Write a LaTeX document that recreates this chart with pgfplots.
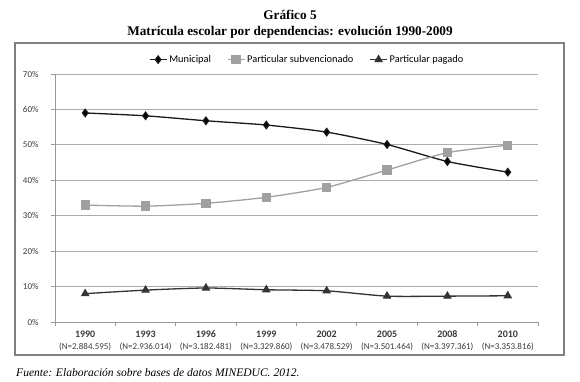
\documentclass[border=0pt]{standalone}
\usepackage{pgfplots}
\pgfplotsset{compat=1.18}
\usepackage{fontspec}
\setmainfont{Carlito}
\newfontfamily\tnr{Liberation Serif}
\definecolor{subv}{HTML}{A0A0A0}
\definecolor{txt}{HTML}{3A3A3A}
\definecolor{boxc}{HTML}{7F7F7F}
\begin{document}
\begin{tikzpicture}
\path[use as bounding box] (0bp,0bp) rectangle (580bp,382bp);
\draw[draw=boxc, line width=1.1bp] (15bp,27bp) -- (564bp,27bp) -- (564bp,339bp) -- (15bp,339bp) -- cycle;
\node[font=\tnr\bfseries\fontsize{13.3}{15}\selectfont] at (290bp,367bp) {Gráfico 5};
\node[font=\tnr\bfseries\fontsize{13.3}{15}\selectfont] at (290bp,350bp) {Matrícula escolar por dependencias: evolución 1990-2009};
\node[anchor=west, font=\tnr\itshape\fontsize{11.6}{13}\selectfont, inner sep=0pt] at (16bp,9bp) {Fuente: Elaboración sobre bases de datos MINEDUC. 2012.};
\begin{axis}[at={(55bp,60bp)}, anchor=south west, scale only axis,
  width=483bp, height=248bp,
  xmin=-0.5, xmax=7.5, ymin=0, ymax=70,
  separate axis lines, axis x line=bottom, axis y line=left,
  axis line style={-, gray!80, line width=0.8bp},
  tick align=outside,
  xtick={0,...,7}, major x tick style={draw=none},
  minor xtick={-0.5,0.5,...,7.5}, minor tick length=4bp,
  minor x tick style={gray!80, line width=0.8bp},
  ytick={0,10,...,70}, major tick length=4bp,
  y tick style={gray!80, line width=0.8bp},
  yticklabels={0\%,10\%,20\%,30\%,40\%,50\%,60\%,70\%},
  yticklabel style={font=\fontsize{9}{10}\selectfont, text=txt, xshift=-9bp},
  xticklabels={
    {\textbf{1990}\\[0bp]{\fontsize{9}{10}\selectfont (N=2.884.595)}},
    {\textbf{1993}\\[0bp]{\fontsize{9}{10}\selectfont (N=2.936.014)}},
    {\textbf{1996}\\[0bp]{\fontsize{9}{10}\selectfont (N=3.182.481)}},
    {\textbf{1999}\\[0bp]{\fontsize{9}{10}\selectfont (N=3.329.860)}},
    {\textbf{2002}\\[0bp]{\fontsize{9}{10}\selectfont (N=3.478.529)}},
    {\textbf{2005}\\[0bp]{\fontsize{9}{10}\selectfont (N=3.501.464)}},
    {\textbf{2008}\\[0bp]{\fontsize{9}{10}\selectfont (N=3.397.361)}},
    {\textbf{2010}\\[0bp]{\fontsize{9}{10}\selectfont (N=3.353.816)}}},
  xticklabel style={align=center, font=\fontsize{10}{12}\selectfont, text=txt, yshift=-1bp},
  ymajorgrids, grid style={gray!65, line width=0.8bp},
  legend columns=3,
  legend style={draw=none, fill=none, at={(0.522,1.058)}, anchor=center,
    font=\fontsize{10.4}{12}\selectfont,
    /tikz/every even column/.append style={column sep=14bp}},
  clip=false,
]
\addplot[color=black!90, line width=1.3bp, smooth, tension=0.4, mark=diamond*, mark size=3.6bp, mark options={solid, fill=black}]
  coordinates {(0,59.0)(1,58.2)(2,56.8)(3,55.6)(4,53.6)(5,50.1)(6,45.3)(7,42.3)};
\addlegendentry{Municipal}
\addplot[color=subv, line width=1.3bp, smooth, tension=0.4, mark=square*, mark size=4bp, mark options={solid, fill=subv}]
  coordinates {(0,33.0)(1,32.7)(2,33.5)(3,35.2)(4,38.0)(5,42.9)(6,47.8)(7,49.9)};
\addlegendentry{Particular subvencionado}
\addplot[color=black!80, line width=1.3bp, smooth, tension=0.4, mark=triangle*, mark size=3.8bp, mark options={solid, fill=black!80}]
  coordinates {(0,8.0)(1,9.0)(2,9.6)(3,9.1)(4,8.8)(5,7.3)(6,7.3)(7,7.4)};
\addlegendentry{Particular pagado}
\end{axis}
\end{tikzpicture}
\end{document}
